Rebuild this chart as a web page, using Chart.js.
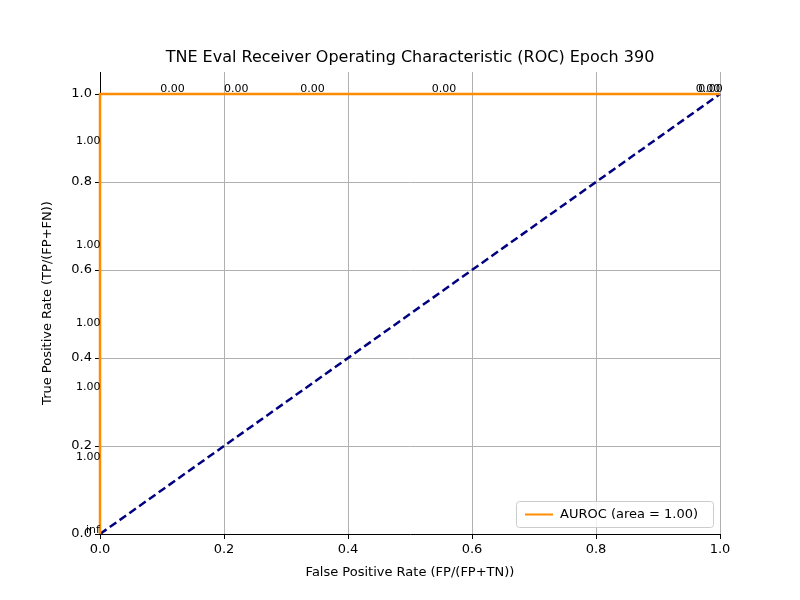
<!DOCTYPE html>
<html><head><meta charset="utf-8">
<script src="https://cdn.jsdelivr.net/npm/chart.js@4/dist/chart.umd.min.js"></script>
<style>body{margin:0;background:#fff}#wrap{width:800px;height:600px}</style>
</head><body><div id="wrap"><canvas id="c" width="800" height="600"></canvas></div>
<script>
// ROC points
const fpr = [0, 0, 0, 0, 0, 0, 0, 0.097, 0.2, 0.323, 0.535, 0.961, 0.965, 1];
const tpr = [0, 0.177, 0.336, 0.482, 0.659, 0.895, 1, 1, 1, 1, 1, 1, 1, 1];
const thresholdLabels = ['inf', '1.00', '1.00', '1.00', '1.00', '1.00', '', '0.00', '0.00', '0.00', '0.00', '0.00', '0.00', ''];
const chanceX = [0, 1];
const chanceY = [0, 1];
const ticks = [0, 0.2, 0.4, 0.6, 0.8, 1.0];

const rocData = fpr.map((x, i) => ({x: x, y: tpr[i]}));
const chanceData = chanceX.map((x, i) => ({x: x, y: chanceY[i]}));

const extras = {
  id: 'extras',
  afterDatasetsDraw(chart) {
    const c = chart.ctx, xs = chart.scales.x, ys = chart.scales.y, a = chart.chartArea;
    c.save();
    // title centred over the plot
    c.font = '16px DejaVu Sans';
    c.fillStyle = '#000';
    c.textAlign = 'center';
    c.textBaseline = 'middle';
    c.fillText('TNE Eval Receiver Operating Characteristic (ROC) Epoch 390', (a.left + a.right) / 2, 58);
    c.textAlign = 'left';
    c.font = '11px DejaVu Sans';
    c.textBaseline = 'alphabetic';
    thresholdLabels.forEach((t, i) => {
      if (!t) return;
      let px = xs.getPixelForValue(fpr[i]), py = ys.getPixelForValue(tpr[i]);
      if (t === '0.00') c.fillText(t, px, py - 2);
      else if (t === 'inf') c.fillText(t, px - 14, py - 1);
      else c.fillText(t, px - 24, py + 4);
    });
    // legend
    const w = 197, h = 26, lx = a.right - 7 - w, ly = a.bottom - 7 - h;
    c.fillStyle = 'rgba(255,255,255,0.8)';
    c.strokeStyle = '#ccc';
    c.lineWidth = 1;
    c.beginPath(); c.roundRect(lx + 0.5, ly + 0.5, w, h, 3); c.fill(); c.stroke();
    c.strokeStyle = 'darkorange'; c.lineWidth = 2;
    c.beginPath(); c.moveTo(lx + 9, ly + 13.5); c.lineTo(lx + 37, ly + 13.5); c.stroke();
    c.fillStyle = '#000'; c.font = '13px DejaVu Sans'; c.textBaseline = 'middle';
    c.fillText('AUROC (area = 1.00)', lx + 44, ly + 14);
    c.restore();
  }
};

new Chart(document.getElementById('c'), {
  type: 'scatter',
  data: {datasets: [
    {label: 'AUROC (area = 1.00)', data: rocData, showLine: true, borderColor: 'darkorange', borderWidth: 2.5, pointRadius: 0, clip: false, order: 1},
    {label: 'chance', data: chanceData, showLine: true, borderColor: 'navy', borderWidth: 2.5, borderDash: [8, 4], pointRadius: 0, clip: false, order: 2}
  ]},
  options: {
    responsive: false, animation: false,
    layout: {padding: {top: 72, right: 80, bottom: 20, left: 40}},
    plugins: {legend: {display: false}, tooltip: {enabled: false}, title: {display: false}},
    scales: {
      x: {type: 'linear', min: 0, max: 1,
        afterBuildTicks: s => { s.ticks = ticks.map(v => ({value: v})); },
        afterFit: s => { s.height = 46; },
        ticks: {color: '#000', font: {family: 'DejaVu Sans', size: 13}, callback: v => v.toFixed(1), maxRotation: 0},
        grid: {color: '#b0b0b0', tickColor: '#000', tickLength: 5},
        border: {color: '#000'},
        title: {display: true, text: 'False Positive Rate (FP/(FP+TN))', color: '#000', font: {family: 'DejaVu Sans', size: 13}, padding: 0}
      },
      y: {type: 'linear', min: 0, max: 1.05,
        afterBuildTicks: s => { s.ticks = ticks.map(v => ({value: v})); },
        afterFit: s => { s.width = 60; },
        ticks: {color: '#000', font: {family: 'DejaVu Sans', size: 13}, callback: v => v.toFixed(1)},
        grid: {color: '#b0b0b0', tickColor: '#000', tickLength: 5},
        border: {color: '#000'},
        title: {display: true, text: 'True Positive Rate (TP/(FP+FN))', color: '#000', font: {family: 'DejaVu Sans', size: 13}, padding: 0}
      }
    }
  },
  plugins: [extras]
});
</script></body></html>
